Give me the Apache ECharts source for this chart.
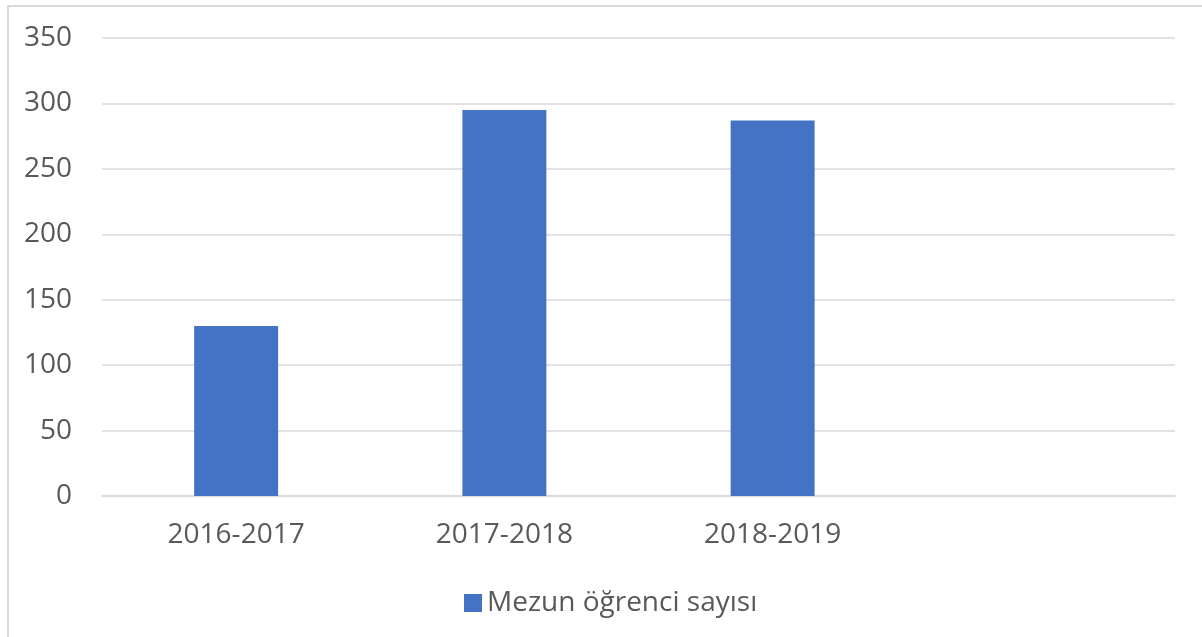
<!DOCTYPE html>
<html>
<head>
<meta charset="utf-8">
<script src="https://cdn.jsdelivr.net/npm/echarts@6/dist/echarts.min.js"></script>
<style>
  html, body { margin: 0; padding: 0; background: #fff; }
  #frame {
    position: absolute; left: 7px; top: 5px; width: 1195px; height: 632px;
    border-left: 2px solid #d9d9d9; border-top: 2px solid #d9d9d9;
    box-sizing: border-box;
  }
  #chart { position: absolute; left: 0; top: 0; width: 1202px; height: 637px; }
</style>
</head>
<body>
<div id="frame"></div>
<div id="chart"></div>
<script>
const categories = ['2016-2017', '2017-2018', '2018-2019', '']
const values = [130, 295, 287, null]
const seriesName = 'Mezun öğrenci sayısı'

const chartIns = echarts.init(document.getElementById('chart'))
const textColor = '#595959'
const font = 'Open Sans'

chartIns.setOption({
  backgroundColor: 'transparent',
  animation: false,
  grid: { left: 102, right: 27, top: 38, bottom: 141 },
  legend: {
    data: [seriesName],
    top: 589,
    left: 464,
    padding: 0,
    icon: 'rect',
    itemWidth: 18,
    itemHeight: 18,
    itemGap: 8,
    textStyle: { color: textColor, fontSize: 28, fontFamily: font }
  },
  xAxis: {
    type: 'category',
    data: categories,
    axisLine: { lineStyle: { color: '#d9d9d9', width: 1.5 } },
    axisTick: { show: false },
    axisLabel: { color: textColor, fontSize: 28, fontFamily: font, margin: 25 }
  },
  yAxis: {
    type: 'value',
    min: 0,
    max: 350,
    interval: 50,
    axisLine: { show: false },
    axisTick: { show: false },
    splitLine: { lineStyle: { color: '#d9d9d9', width: 1.5 } },
    axisLabel: { color: textColor, fontSize: 28, fontFamily: font, margin: 30 }
  },
  series: [
    {
      name: seriesName,
      type: 'bar',
      data: values,
      barWidth: '31.3%',
      itemStyle: { color: '#4472c4' }
    }
  ]
})
</script>
</body>
</html>
